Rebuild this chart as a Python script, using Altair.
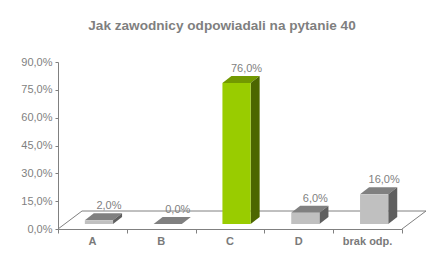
import altair as alt
import pandas as pd

# ---- data ----
categories = ["A", "B", "C", "D", "brak odp."]
values = [2.0, 0.0, 76.0, 6.0, 16.0]
front_colors = ["#c0c0c0", "#c0c0c0", "#99cc00", "#c0c0c0", "#c0c0c0"]
top_colors = ["#808080", "#808080", "#729900", "#808080", "#808080"]
side_colors = ["#5f5f5f", "#5f5f5f", "#4c6600", "#5f5f5f", "#5f5f5f"]
y_ticks = [0, 15, 30, 45, 60, 75, 90]
title_text = "Jak zawodnicy odpowiadali na pytanie 40"

# ---- layout / style constants ----
W, H = 344, 167
YMAX = 90
PX_X = W / len(categories)      # px per category slot
PX_Y = H / YMAX                 # px per percent
BAR_L, BAR_R = 0.39, 0.80       # front face within slot
BASE = 5 / PX_Y                 # bars stand slightly behind front edge
DDX, DDY = 9 / PX_X, 7 / PX_Y   # bar depth
FDX, FDY = 24 / PX_X, 18 / PX_Y # floor depth
GRAY = "#808080"
FONT = "Liberation Sans"

def pct(v):
    return f"{v:.1f}".replace(".", ",") + "%"

front_rows, face_rows, label_rows = [], [], []
for i, (c, v) in enumerate(zip(categories, values)):
    x0, x1 = i + BAR_L, i + BAR_R
    top = BASE + v
    front_rows.append(dict(cat=c, x=x0, x2=x1, y=BASE, y2=top, fill=front_colors[i]))
    # top face (parallelogram)
    pts = [(x0, top, top), (x0 + DDX, top, top + DDY), (x1, top, top + DDY), (x1 + DDX, top + DDY, top + DDY)]
    for k, (px, lo, hi) in enumerate(pts):
        face_rows.append(dict(g=f"{c}-top", px=px, lo=lo, hi=hi, fc=top_colors[i]))
    # side face
    pts = [(x1, BASE, top), (x1 + DDX, BASE + DDY, top + DDY)]
    for k, (px, lo, hi) in enumerate(pts):
        face_rows.append(dict(g=f"{c}-side", px=px, lo=lo, hi=hi, fc=side_colors[i]))
    label_rows.append(dict(cat=c, x=i + 0.5 + 0.095 + 10 / PX_X, y=top, t=pct(v)))

front_df = pd.DataFrame(front_rows)
face_df = pd.DataFrame(face_rows)
label_df = pd.DataFrame(label_rows)
n = len(categories)
floor_df = pd.DataFrame({
    "x": [0, FDX, n + FDX, n],
    "y": [0, FDY, FDY, 0],
    "o": [0, 1, 2, 3],
})
cat_label_df = pd.DataFrame({"x": [i + 0.5 for i in range(n)], "t": categories})

xs = alt.Scale(domain=[0, n], nice=False, zero=False)
ys = alt.Scale(domain=[0, YMAX], nice=False)

x_axis = alt.Axis(
    values=list(range(n + 1)), labels=False,
    title=None, grid=False, domainColor=GRAY, tickColor=GRAY, tickSize=4,
)
y_axis = alt.Axis(
    values=y_ticks,
    labelExpr="replace(format(datum.value, '.1f'), '.', ',') + '%'",
    title=None, grid=False, domainColor=GRAY, tickColor=GRAY, tickSize=3,
    labelColor="#7f7f7f", labelFont=FONT, labelFontSize=11, labelPadding=3,
    labelOverlap=False, labelFlush=False, labelBound=False,
)

floor = alt.Chart(floor_df).mark_line(color=GRAY, strokeWidth=1).encode(
    x=alt.X("x:Q", scale=xs, axis=x_axis),
    y=alt.Y("y:Q", scale=ys, axis=y_axis),
    order="o:Q",
)

faces = alt.Chart(face_df).mark_area(interpolate="linear").encode(
    x=alt.X("px:Q", scale=xs, axis=x_axis),
    y=alt.Y("lo:Q", scale=ys, stack=None, axis=y_axis),
    y2="hi:Q",
    detail="g:N",
    color=alt.Color("fc:N", scale=None),
)

fronts = alt.Chart(front_df).mark_rect().encode(
    x=alt.X("x:Q", scale=xs, axis=x_axis),
    x2="x2:Q",
    y=alt.Y("y:Q", scale=ys, axis=y_axis),
    y2="y2:Q",
    fill=alt.Fill("fill:N", scale=None),
)

labels = alt.Chart(label_df).mark_text(
    font=FONT, fontSize=11, color="#7f7f7f", dy=-14, baseline="middle", align="center"
).encode(
    x=alt.X("x:Q", scale=xs, axis=x_axis),
    y=alt.Y("y:Q", scale=ys, axis=y_axis),
    text="t:N",
)

cat_labels = alt.Chart(cat_label_df).mark_text(
    font=FONT, fontSize=11, fontWeight="bold", color="#7a7a7a", baseline="middle", align="center"
).encode(
    x=alt.X("x:Q", scale=xs, axis=x_axis),
    y=alt.value(H + 13),
    text="t:N",
)

chart = alt.layer(floor, faces, fronts, labels, cat_labels).properties(
    width=W, height=H,
    background="white",
    title=alt.TitleParams(title_text, font=FONT, fontSize=13.6, fontWeight="bold",
                          color="#7f7f7f", anchor="middle", frame="group",
                          dx=-8, offset=23),
    autosize=alt.AutoSizeParams(type="none"),
    padding={"left": 58, "top": 62, "right": 444 - 58 - W, "bottom": 270 - 62 - H},
).configure_view(stroke=None)

chart.save("out.html", embed_options={"renderer": "svg", "actions": False})
